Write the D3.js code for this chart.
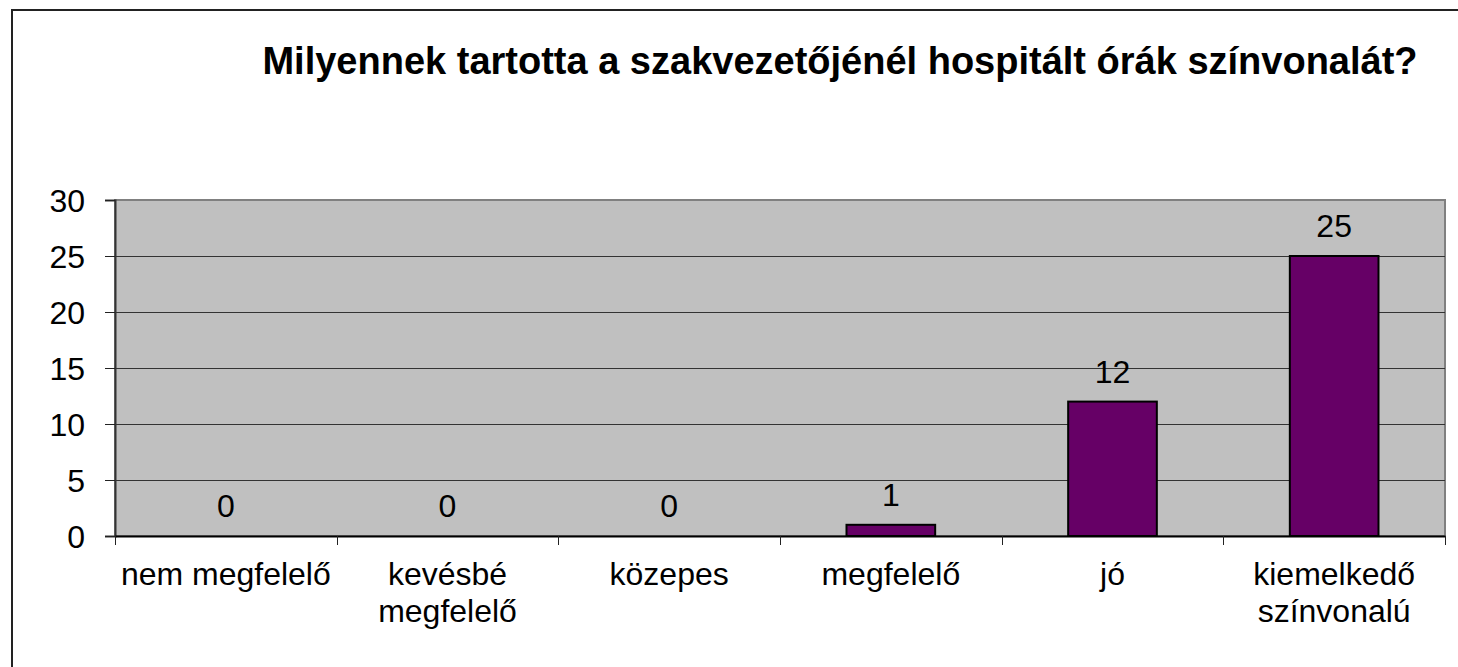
<!DOCTYPE html>
<html>
<head>
<meta charset="utf-8">
<script src="https://cdn.jsdelivr.net/npm/d3@7"></script>
<style>
  body { margin: 0; background: white; }
  text { font-family: Arial, "Liberation Sans", sans-serif; }
</style>
</head>
<body>
<div id="chart"></div>
<script>
// Data
const categories = [["nem megfelelő"], ["kevésbé", "megfelelő"], ["közepes"], ["megfelelő"], ["jó"], ["kiemelkedő", "színvonalú"]];
const values = [0, 0, 0, 1, 12, 25];
const yTicks = [0, 5, 10, 15, 20, 25, 30];
const title = "Milyennek tartotta a szakvezetőjénél hospitált órák színvonalát?";

const W = 1458, H = 667;
const plot = { left: 115, top: 200, right: 1445, bottom: 536 };

const svg = d3.select("#chart")
    .append("svg")
    .attr("width", W)
    .attr("height", H)
    .style("display", "block")
    .style("background-color", "white");

// outer frame (runs off the right and bottom edges)
svg.append("rect")
    .attr("x", 12)
    .attr("y", 10)
    .attr("width", W + 20)
    .attr("height", H + 20)
    .attr("fill", "none")
    .attr("stroke", "#222")
    .attr("stroke-width", 2);

// Title
svg.append("text")
    .attr("x", 840)
    .attr("y", 74)
    .attr("text-anchor", "middle")
    .style("font-size", "38px")
    .style("font-weight", "bold")
    .text(title);

// Scales
const x = d3.scaleBand()
    .domain(d3.range(categories.length))
    .range([plot.left, plot.right])
    .paddingInner(0)
    .paddingOuter(0);
const y = d3.scaleLinear()
    .domain([0, 30])
    .range([plot.bottom, plot.top]);

// Plot background
svg.append("rect")
    .attr("x", plot.left)
    .attr("y", plot.top)
    .attr("width", plot.right - plot.left)
    .attr("height", plot.bottom - plot.top)
    .attr("fill", "#c0c0c0")
    .attr("stroke", "#808080")
    .attr("stroke-width", 2);

// Gridlines
svg.append("g")
    .selectAll("line")
    .data(yTicks.filter(d => d > 0 && d < 30))
    .join("line")
    .attr("x1", plot.left)
    .attr("x2", plot.right)
    .attr("y1", d => Math.round(y(d)) + 0.5)
    .attr("y2", d => Math.round(y(d)) + 0.5)
    .attr("stroke", "#333")
    .attr("stroke-width", 1);

// Y axis
const yAxis = svg.append("g")
    .attr("transform", `translate(${plot.left},0)`)
    .call(d3.axisLeft(y).tickValues(yTicks).tickSize(10).tickPadding(20));
yAxis.select(".domain").attr("stroke", "#333").attr("stroke-width", 2);
yAxis.selectAll(".tick line").attr("stroke", "#222");
yAxis.selectAll("text")
    .style("font-size", "32px")
    .attr("fill", "#000")
    .attr("dy", "0.36em");

// X axis
const xAxis = svg.append("g")
    .attr("transform", `translate(0,${plot.bottom})`)
    .call(d3.axisBottom(x).tickSize(0).tickFormat(""));
xAxis.select(".domain").attr("stroke", "#000").attr("stroke-width", 2);

// category separators
svg.append("g")
    .selectAll("line")
    .data(d3.range(categories.length + 1))
    .join("line")
    .attr("x1", i => Math.round(plot.left + i * x.bandwidth()) + 0.5)
    .attr("x2", i => Math.round(plot.left + i * x.bandwidth()) + 0.5)
    .attr("y1", plot.bottom)
    .attr("y2", plot.bottom + 9)
    .attr("stroke", "#222");

// category labels
svg.append("g")
    .selectAll("text")
    .data(categories)
    .join("text")
    .attr("text-anchor", "middle")
    .attr("y", 585)
    .style("font-size", "32px")
    .each(function (lines, i) {
        d3.select(this).selectAll("tspan")
            .data(lines)
            .join("tspan")
            .attr("x", x(i) + x.bandwidth() / 2)
            .attr("dy", (d, j) => j === 0 ? 0 : 37)
            .text(d => d);
    });

// Bars (zero values draw nothing)
const barW = x.bandwidth() * 0.4;
svg.append("g")
    .selectAll("rect")
    .data(values.map((v, i) => ({ v, i })).filter(d => d.v > 0))
    .join("rect")
    .attr("x", d => x(d.i) + (x.bandwidth() - barW) / 2)
    .attr("y", d => y(d.v))
    .attr("width", barW)
    .attr("height", d => y(0) - y(d.v))
    .attr("fill", "#660066")
    .attr("stroke", "#000")
    .attr("stroke-width", 2);

// Value labels
svg.append("g")
    .selectAll("text")
    .data(values)
    .join("text")
    .attr("x", (d, i) => x(i) + x.bandwidth() / 2)
    .attr("y", d => y(d) - 19)
    .attr("text-anchor", "middle")
    .style("font-size", "32px")
    .text(d => d);
</script>
</body>
</html>
